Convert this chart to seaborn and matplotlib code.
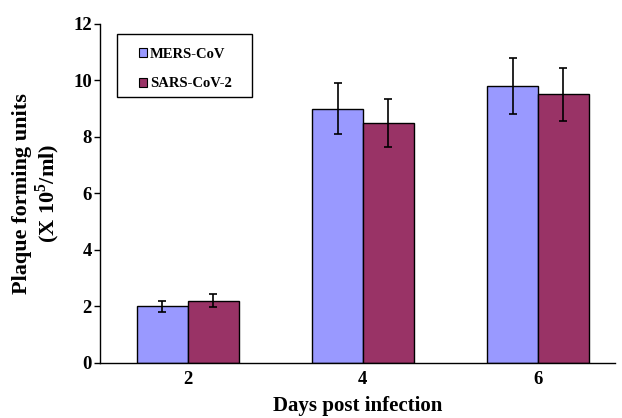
import numpy as np
import pandas as pd
import matplotlib
matplotlib.use("Agg")
import matplotlib.pyplot as plt
from matplotlib.patches import Rectangle
import seaborn as sns

days = ["2", "4", "6"]
viruses = ["MERS-CoV", "SARS-CoV-2"]
mers_pfu = [2.0, 9.0, 9.8]
sars_pfu = [2.2, 8.5, 9.5]
mers_err = [0.2, 0.9, 1.0]
sars_err = [0.22, 0.85, 0.95]

df = pd.DataFrame({
    "day": days * 2,
    "virus": [viruses[0]] * 3 + [viruses[1]] * 3,
    "pfu": mers_pfu + sars_pfu,
})

sns.set_theme(style="white")
plt.rcParams["font.family"] = ["Liberation Serif", "DejaVu Serif"]
plt.rcParams["font.weight"] = "bold"
plt.rcParams["mathtext.fontset"] = "custom"
plt.rcParams["mathtext.rm"] = "Liberation Serif:bold"
plt.rcParams["mathtext.bf"] = "Liberation Serif:bold"
for key in ["text.color", "axes.labelcolor", "xtick.color", "ytick.color"]:
    plt.rcParams[key] = "black"

fig, ax = plt.subplots(figsize=(6.22, 4.18), dpi=100)
fig.subplots_adjust(left=0.161, right=0.989, bottom=0.132, top=0.943)

sns.barplot(data=df, x="day", y="pfu", hue="virus", order=days, hue_order=viruses,
            palette=["#9999FF", "#993366"], saturation=1, edgecolor="black", linewidth=1,
            width=0.58, errorbar=None, ax=ax, legend=True)

for container, errs in zip(ax.containers, [mers_err, sars_err]):
    xs = [p.get_x() + p.get_width() / 2 for p in container.patches]
    hs = [p.get_height() for p in container.patches]
    ax.errorbar(xs, hs, yerr=errs, fmt="none", ecolor="black", elinewidth=1.2,
                capsize=3, capthick=1.2)

ax.set_ylim(0, 12)
ax.set_xlim(-0.5, 2.44)
ax.set_yticks(np.arange(0, 13, 2))
ax.set_yticklabels([str(v) for v in range(0, 13, 2)], fontsize=13.5, fontweight="bold")
ax.set_xticklabels(days, fontsize=13.5, fontweight="bold")
ax.set_xticks([0.5, 1.5], minor=True)
ax.tick_params(axis="x", which="major", length=0, pad=6)
ax.tick_params(axis="x", which="minor", direction="in", length=3, width=1, color="black")
ax.tick_params(axis="y", which="major", direction="out", length=4, width=1, color="black", left=True, pad=2)

for s in ["top", "right"]:
    ax.spines[s].set_visible(False)
for s in ["left", "bottom"]:
    ax.spines[s].set_color("black")
    ax.spines[s].set_linewidth(1)

ax.set_xlabel("Days post infection", fontsize=15, fontweight="bold", labelpad=6)
ax.set_ylabel("Plaque forming units\n(X 10$^{\\mathbf{5}}$/ml)", fontsize=16,
              fontweight="bold", labelpad=8, linespacing=1.05)

leg = ax.legend(loc="upper left", bbox_to_anchor=(0.076, 0.93),
                prop={"weight": "bold", "size": 10.5}, frameon=False,
                handlelength=0.55, handleheight=0.55, handletextpad=0.2,
                labelspacing=1.15, borderpad=0, borderaxespad=0)
for h in leg.legend_handles:
    h.set_edgecolor("black")
    h.set_linewidth(0.8)
ax.add_patch(Rectangle((0.033, 0.785), 0.262, 0.186, transform=ax.transAxes,
                       fill=False, edgecolor="black", linewidth=1, zorder=5, clip_on=False))

fig.savefig("out.png", dpi=100)
